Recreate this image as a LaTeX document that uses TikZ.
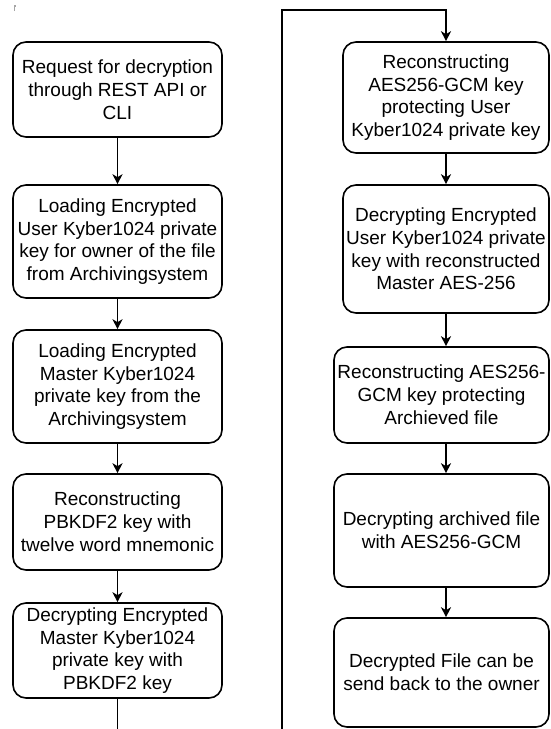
\documentclass[tikz,border=0pt]{standalone}
\usepackage{fontspec}
\setmainfont{Liberation Sans}
\usetikzlibrary{arrows.meta}
\begin{document}
\begin{tikzpicture}[x=1pt,y=-1pt,
  stepbox/.style={draw, line width=1.6pt, rounded corners=13pt, align=center,
    inner sep=0pt, font=\fontsize{19}{22.8}\selectfont},
  leftbox/.style={stepbox, minimum width=209pt},
  rightbox/.style={stepbox, minimum width=206pt},
  widebox/.style={stepbox, minimum width=215pt},
  flow/.style={line width=1.6pt, -{Stealth[length=10pt,width=10pt,inset=3pt]}}]
\useasboundingbox (0,0) rectangle (550,729);
\clip (0,0) rectangle (550,729);

% small stroke in the top-left corner
\draw[gray!70, line width=1.2pt] (14.5,11) -- (14.5,6) -- (16,6);

% left column
\node[leftbox, minimum height=95pt] (b1) at (117.5,89.5)
  {Request for decryption\\through REST API or\\CLI};
\node[leftbox, minimum height=113pt] (b2) at (117.5,241.5)
  {Loading Encrypted\\User Kyber1024 private\\key for owner of the file\\from Archivingsystem};
\node[leftbox, minimum height=113pt] (b3) at (117.5,386.5)
  {Loading Encrypted\\Master Kyber1024\\private key from the\\Archivingsystem};
\node[leftbox, minimum height=96pt] (b4) at (117.5,522)
  {Reconstructing\\PBKDF2 key with\\twelve word mnemonic};
\node[leftbox, minimum height=95pt] (b5) at (117.5,650.5)
  {Decrypting Encrypted\\Master Kyber1024\\private key with\\PBKDF2 key};

% right column
\node[rightbox, minimum height=111pt] (b6) at (446,97.5)
  {Reconstructing\\AES256-GCM key\\protecting User\\Kyber1024 private key};
\node[rightbox, minimum height=128pt] (b7) at (446,249)
  {Decrypting Encrypted\\User Kyber1024 private\\key with reconstructed\\Master AES-256};
\node[widebox, minimum height=96pt] (b8) at (441.5,395)
  {Reconstructing AES256-\\GCM key protecting\\Archieved file};
\node[widebox, minimum height=113pt] (b9) at (441.5,530.5)
  {Decrypting archived file\\with AES256-GCM};
\node[widebox, minimum height=109pt] (b10) at (441.5,672.5)
  {Decrypted File can be\\send back to the owner};

% connectors
\draw[flow] (b1) -- (b2);
\draw[flow] (b2) -- (b3);
\draw[flow] (b3) -- (b4);
\draw[flow] (b4) -- (b5);
\coordinate (turnlow) at (282,760);
\coordinate (turnhigh) at (282,10);
\draw[flow] (b5.south) |- (turnlow) -- (turnhigh) -| (b6.north);
\draw[flow] (b6) -- (b6 |- b7.north);
\draw[flow] (b7) -- (b7 |- b8.north);
\draw[flow] (b8.south -| b7) -- (b7 |- b9.north);
\draw[flow] (b9.south -| b7) -- (b7 |- b10.north);
\end{tikzpicture}
\end{document}
